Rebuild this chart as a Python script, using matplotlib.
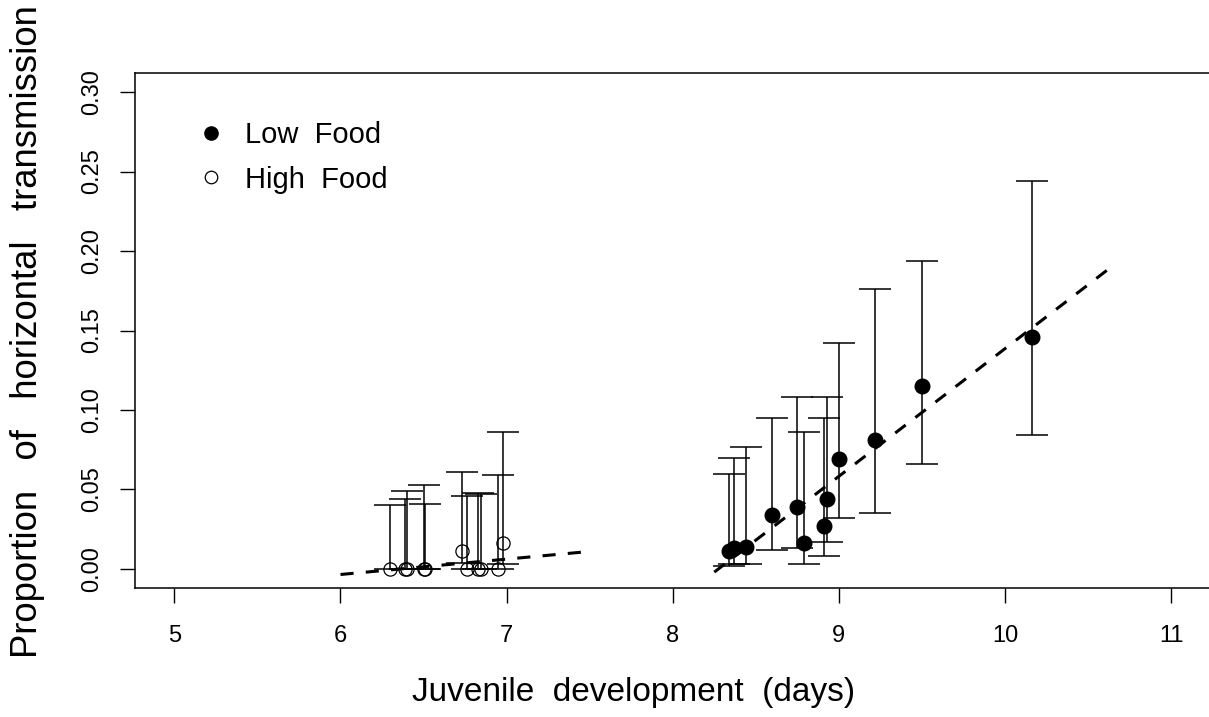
import numpy as np
import matplotlib
matplotlib.use('Agg')
import matplotlib.pyplot as plt

matplotlib.rcParams['font.family'] = ['Liberation Sans', 'DejaVu Sans']

# Low food: development time, proportion, lower and upper CI
low_x  = [8.34, 8.37, 8.44, 8.60, 8.75, 8.79, 8.91, 8.93, 9.00, 9.22, 9.50, 10.16]
low_y  = [0.011, 0.013, 0.014, 0.034, 0.039, 0.016, 0.027, 0.044, 0.069, 0.081, 0.115, 0.146]
low_lo = [0.002, 0.003, 0.003, 0.012, 0.013, 0.003, 0.008, 0.017, 0.032, 0.035, 0.066, 0.084]
low_hi = [0.060, 0.070, 0.077, 0.095, 0.108, 0.086, 0.095, 0.108, 0.142, 0.176, 0.194, 0.244]

# High food
high_x  = [6.30, 6.39, 6.40, 6.50, 6.51, 6.73, 6.76, 6.83, 6.845, 6.95, 6.98]
high_y  = [0.0, 0.0, 0.0, 0.0, 0.0, 0.011, 0.0, 0.0, 0.0, 0.0, 0.016]
high_lo = [0.0, 0.0, 0.0, 0.0, 0.0, 0.004, 0.0, 0.0, 0.0, 0.0, 0.003]
high_hi = [0.040, 0.044, 0.049, 0.053, 0.041, 0.061, 0.046, 0.048, 0.047, 0.059, 0.086]

# fitted lines (end points)
fit_low_x  = [8.25, 10.64]
fit_low_y  = [-0.002, 0.190]
fit_high_x = [6.0, 7.5]
fit_high_y = [-0.0035, 0.011]

xticks = [5, 6, 7, 8, 9, 10, 11]
yticks = [0.0, 0.05, 0.10, 0.15, 0.20, 0.25, 0.30]

W, H = 1209, 717
fig = plt.figure(figsize=(W/100, H/100), dpi=100)
ax = fig.add_axes([134.5/W, 1-588/H, (1211-134.5)/W, (588-73)/H])

def err(y, lo, hi):
    y, lo, hi = map(np.asarray, (y, lo, hi))
    return [y-lo, hi-y]

ax.plot(high_x, high_y, 'o', ms=9.5, mfc='none', mec='black', mew=0.9, zorder=3)
ax.errorbar(high_x, high_y, yerr=err(high_y, high_lo, high_hi), fmt='none',
            ecolor='black', elinewidth=1.1, capsize=11.5, capthick=1.1, zorder=2)

ax.errorbar(low_x, low_y, yerr=err(low_y, low_lo, low_hi), fmt='none',
            ecolor='black', elinewidth=1.1, capsize=11.5, capthick=1.1, zorder=2)
ax.plot(low_x, low_y, 'o', ms=10.5, color='black', zorder=3)

ax.plot(fit_low_x, fit_low_y, '-', color='black', lw=2.2, dashes=(4.3, 4), zorder=4)
ax.plot(fit_high_x, fit_high_y, '-', color='black', lw=2.2, dashes=(4.3, 4), zorder=4)

ax.set_xlim(4.76, 11.24)
ax.set_ylim(-0.012, 0.312)
ax.set_xticks(xticks)
ax.set_xticklabels([str(v) for v in xticks], fontsize=17)
ax.set_yticks(yticks)
ax.set_yticklabels(['%.2f' % v for v in yticks], fontsize=17, rotation=90, va='center')
ax.tick_params(direction='out', length=10.5, width=1.0)
ax.tick_params(axis='x', pad=16)
ax.tick_params(axis='y', pad=12)
for s in ax.spines.values():
    s.set_linewidth(1.1)

ax.set_xlabel('Juvenile  development  (days)', fontsize=24)
ax.xaxis.set_label_coords(0.4635, -0.173)
ax.set_ylabel('Proportion   of   horizontal   transmission', fontsize=26.3)
ax.yaxis.set_label_coords(-0.083, 0.498)

h1, = ax.plot([], [], 'o', ms=9.5, color='black')
h2, = ax.plot([], [], 'o', ms=9, mfc='none', mec='black', mew=0.9)
ax.legend([h1, h2], ['Low  Food', 'High  Food'], loc='upper left',
          bbox_to_anchor=(196/W, 1-121/H), bbox_transform=fig.transFigure,
          frameon=False, fontsize=21, numpoints=1, handlelength=1,
          handletextpad=0.68, labelspacing=0.57, borderpad=0, borderaxespad=0)

fig.savefig('out.png', dpi=100)
